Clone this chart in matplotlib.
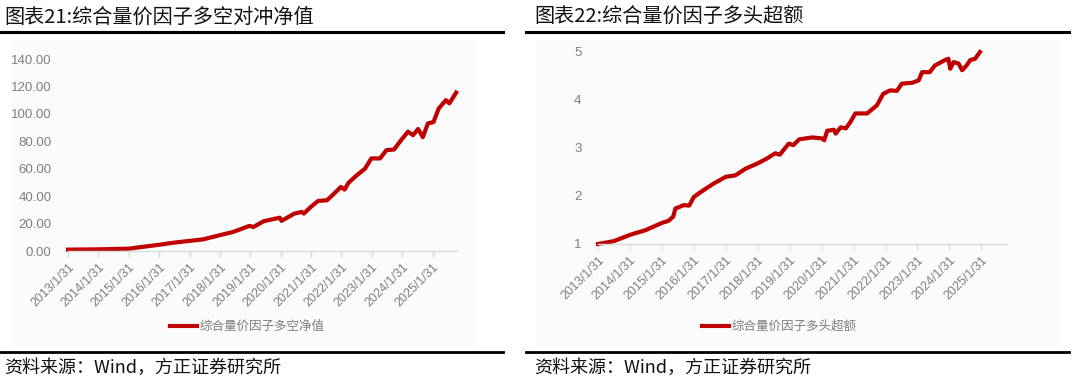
import matplotlib
matplotlib.use("Agg")
import matplotlib.pyplot as plt
from matplotlib.lines import Line2D
from matplotlib.patches import Rectangle
import pandas as pd

plt.rcParams['font.family'] = ['Noto Sans CJK SC', 'DejaVu Sans']

# 综合量价因子多空对冲净值
ls_dates = ["2013-01-31", "2014-01-31", "2015-01-31", "2015-07-15", "2016-01-15",
            "2016-07-15", "2017-01-20", "2017-07-15", "2018-01-20", "2018-07-10",
            "2019-01-20", "2019-03-10", "2019-07-10", "2020-01-20", "2020-02-10",
            "2020-07-15", "2020-10-10", "2020-11-05", "2021-01-25", "2021-04-25",
            "2021-08-10", "2021-10-20", "2022-01-25", "2022-03-10", "2022-04-25",
            "2022-07-30", "2022-11-10", "2023-01-25", "2023-05-10", "2023-07-25",
            "2023-10-25", "2024-01-20", "2024-04-10", "2024-06-10", "2024-08-10",
            "2024-10-05", "2024-12-05", "2025-02-10", "2025-04-15", "2025-07-10",
            "2025-08-20", "2025-11-10"]
ls_values = [1.0, 1.2, 1.7, 3.0, 4.4,
             6.0, 7.3, 8.5, 11.4, 13.9,
             18.3, 17.5, 21.7, 24.3, 22.0,
             27.3, 28.5, 27.3, 32.0, 36.5,
             37.0, 41.0, 46.7, 44.8, 49.7,
             55.0, 60.0, 67.5, 67.5, 73.5,
             74.0, 81.0, 87.0, 84.5, 89.0,
             83.0, 93.0, 94.0, 104.0, 110.0,
             107.6, 115.5]

# 综合量价因子多头超额
lo_dates = ["2013-01-31", "2013-07-31", "2014-01-31", "2014-07-31", "2015-01-31",
            "2015-04-15", "2015-06-10", "2015-07-05", "2015-10-10", "2015-12-10",
            "2016-01-31", "2016-05-20", "2016-09-15", "2017-01-31", "2017-05-20",
            "2017-09-15", "2018-01-31", "2018-05-15", "2018-08-20", "2018-10-10",
            "2019-01-20", "2019-03-15", "2019-05-20", "2019-10-15", "2020-02-05",
            "2020-03-01", "2020-04-05", "2020-06-20", "2020-07-10", "2020-09-05",
            "2020-11-05", "2020-12-25", "2021-02-20", "2021-07-05", "2021-10-25",
            "2022-01-05", "2022-03-25", "2022-06-10", "2022-08-05", "2022-12-05",
            "2023-02-15", "2023-03-25", "2023-06-20", "2023-08-20", "2023-12-10",
            "2024-01-20", "2024-02-10", "2024-03-20", "2024-05-15", "2024-06-25",
            "2024-08-15", "2024-09-25", "2024-11-20", "2025-01-15"]
lo_values = [1.00, 1.06, 1.19, 1.29, 1.44,
             1.48, 1.57, 1.74, 1.81, 1.80,
             1.98, 2.12, 2.26, 2.40, 2.43,
             2.57, 2.68, 2.78, 2.89, 2.86,
             3.09, 3.06, 3.18, 3.22, 3.20,
             3.16, 3.36, 3.38, 3.30, 3.43,
             3.41, 3.54, 3.72, 3.72, 3.89,
             4.13, 4.20, 4.19, 4.34, 4.36,
             4.41, 4.58, 4.58, 4.72, 4.83,
             4.86, 4.65, 4.79, 4.76, 4.62,
             4.72, 4.83, 4.86, 5.00]

tick_dates = ["%d-01-31" % y for y in range(2013, 2026)]
tick_labels = ["%d/1/31" % y for y in range(2013, 2026)]

panels = [
    dict(title="图表21:综合量价因子多空对冲净值", name="综合量价因子多空净值",
         dates=ls_dates, values=ls_values, x0=0, line_end=503,
         rect=[68 / 1080, 1 - 251 / 387, 389 / 1080, 192 / 387],
         ylim=(0, 140), yticks=list(range(0, 141, 20)), yfmt="{:.2f}",
         legend_x=170, bg=(12, 476)),
    dict(title="图表22:综合量价因子多头超额", name="综合量价因子多头超额",
         dates=lo_dates, values=lo_values, x0=530, line_end=1069,
         rect=[598 / 1080, 1 - 244 / 387, 409 / 1080, 192 / 387],
         ylim=(1, 5), yticks=[1, 2, 3, 4, 5], yfmt="{:d}",
         legend_x=702, bg=(536, 1060)),
]

W, H = 1080, 387
fig = plt.figure(figsize=(W / 100, H / 100), dpi=100)
red = "#c00000"
gray = "#7f7f7f"

for p in panels:
    # light chart area
    fig.patches.append(Rectangle((p["bg"][0] / W, 1 - 346 / H), (p["bg"][1] - p["bg"][0]) / W,
                                 (346 - 40) / H, transform=fig.transFigure,
                                 facecolor="#fbfbfb", edgecolor="none", zorder=-5))
    lx0 = 0 if p["x0"] == 0 else 526
    for yy, lw in [(32, 2.2), (352, 2.0)]:
        fig.add_artist(Line2D([lx0 / W, p["line_end"] / W], [1 - yy / H, 1 - yy / H],
                              color="black", lw=lw, transform=fig.transFigure))
    fig.text((p["x0"] + 4) / W, 1 - 17 / H, p["title"], fontsize=14.5,
             va="center", ha="left", color="#111111")
    fig.text((p["x0"] + 4) / W, 1 - 368 / H, "资料来源：Wind，方正证券研究所",
             fontsize=13, va="center", ha="left", color="#111111", style="italic")

    ax = fig.add_axes(p["rect"])
    ax.patch.set_alpha(0)
    x = pd.to_datetime(p["dates"])
    ax.plot(x, p["values"], color=red, lw=3, solid_joinstyle="round", clip_on=False)
    ax.set_xlim(pd.Timestamp("2013-01-31"), pd.Timestamp("2025-11-20"))
    ax.set_ylim(*p["ylim"])
    ax.set_yticks(p["yticks"])
    ax.set_yticklabels([p["yfmt"].format(v) for v in p["yticks"]])
    ax.set_xticks(pd.to_datetime(tick_dates))
    ax.set_xticklabels(tick_labels, rotation=45, ha="right", rotation_mode="anchor")
    for s in ["top", "right", "left"]:
        ax.spines[s].set_visible(False)
    ax.spines["bottom"].set_color("#d9d9d9")
    ax.spines["bottom"].set_linewidth(1.0)
    ax.tick_params(axis="x", colors="#d9d9d9", length=4, width=1, labelcolor=gray,
                   labelsize=9, pad=3, labelfontfamily="Liberation Sans")
    ax.tick_params(axis="y", length=0, labelcolor=gray, labelsize=9.5, pad=12,
                   labelfontfamily="Liberation Sans")

    # legend
    lx = p["legend_x"]
    fig.add_artist(Line2D([lx / W, (lx + 27) / W], [1 - 326 / H, 1 - 326 / H],
                          color=red, lw=3, transform=fig.transFigure))
    fig.text((lx + 30) / W, 1 - 326 / H, p["name"], fontsize=9, color=gray,
             va="center", ha="left")

fig.savefig("out.png", dpi=100)
